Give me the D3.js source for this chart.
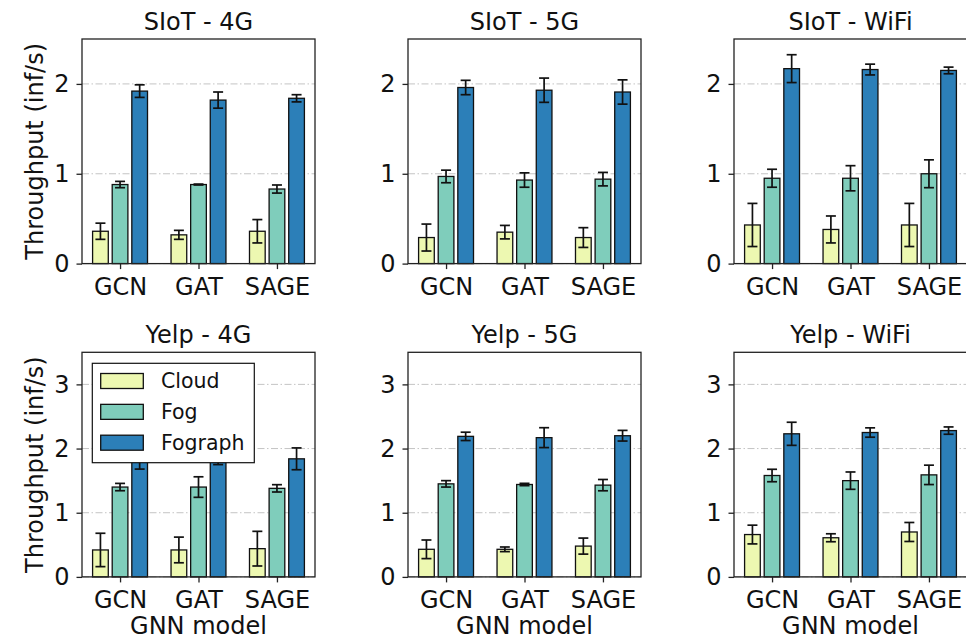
<!DOCTYPE html>
<html lang="en">
<head>
  <meta charset="UTF-8">
  <title>Throughput</title>
  <style>
    body { margin: 0; background: #fff; }
    svg { display: block; font-family: "DejaVu Sans", sans-serif; }
  </style>
</head>
<body>
  <svg id="svg" width="966" height="640"></svg>
  <script src="https://cdn.jsdelivr.net/npm/d3@7"></script>
  <script>
    const models = ['GCN', 'GAT', 'SAGE']
    const platforms = ['Cloud', 'Fog', 'Fograph']
    const colors = ['#edf8b1', '#7fcdbb', '#2c7fb8']
    const networks = ['4G', '5G', 'WiFi']
    const datasets = ['SIoT', 'Yelp']
    const siotTicks = [0, 1, 2]
    const yelpTicks = [0, 1, 2, 3]

    // rows = Cloud, Fog, Fograph ; columns = GCN, GAT, SAGE
    const siot4gMean = [[0.36, 0.32, 0.36], [0.88, 0.88, 0.83], [1.92, 1.82, 1.84]]
    const siot4gErr = [[0.09, 0.05, 0.13], [0.035, 0.005, 0.045], [0.07, 0.09, 0.04]]
    const siot5gMean = [[0.29, 0.35, 0.29], [0.97, 0.93, 0.94], [1.96, 1.93, 1.91]]
    const siot5gErr = [[0.15, 0.075, 0.11], [0.07, 0.08, 0.075], [0.08, 0.135, 0.135]]
    const siotWifiMean = [[0.43, 0.38, 0.43], [0.95, 0.95, 1.0], [2.17, 2.16, 2.15]]
    const siotWifiErr = [[0.24, 0.15, 0.24], [0.1, 0.14, 0.155], [0.155, 0.06, 0.037]]
    const yelp4gMean = [[0.42, 0.42, 0.44], [1.4, 1.4, 1.38], [1.82, 1.9, 1.84]]
    const yelp4gErr = [[0.26, 0.2, 0.27], [0.057, 0.16, 0.057], [0.14, 0.15, 0.17]]
    const yelp5gMean = [[0.43, 0.43, 0.48], [1.45, 1.44, 1.43], [2.19, 2.17, 2.2]]
    const yelp5gErr = [[0.145, 0.036, 0.125], [0.05, 0.018, 0.088], [0.065, 0.155, 0.083]]
    const yelpWifiMean = [[0.66, 0.61, 0.7], [1.58, 1.5, 1.59], [2.23, 2.25, 2.28]]
    const yelpWifiErr = [[0.146, 0.062, 0.148], [0.097, 0.135, 0.151], [0.18, 0.073, 0.057]]

    const panels = [
      { ds: 0, net: 0, mean: siot4gMean, err: siot4gErr },
      { ds: 0, net: 1, mean: siot5gMean, err: siot5gErr },
      { ds: 0, net: 2, mean: siotWifiMean, err: siotWifiErr },
      { ds: 1, net: 0, mean: yelp4gMean, err: yelp4gErr },
      { ds: 1, net: 1, mean: yelp5gMean, err: yelp5gErr },
      { ds: 1, net: 2, mean: yelpWifiMean, err: yelpWifiErr }
    ]

    const colLeft = [82, 408, 734]
    const rowTop = [39, 352.3]
    const pw = 233
    const ph = 224.6
    const yMax = [2.5, 3.5]
    const yTicks = [siotTicks, yelpTicks]
    const barW = 0.2
    const slot = 0.25
    const ink = '#222'

    const svg = d3.select('#svg')
    const x = d3.scaleLinear().domain([-0.485, 2.485]).range([0, pw])

    panels.forEach(p => {
      const g = svg.append('g')
        .attr('transform', `translate(${colLeft[p.net]}, ${rowTop[p.ds]})`)
      const y = d3.scaleLinear().domain([0, yMax[p.ds]]).range([ph, 0])

      // grid
      g.selectAll('.grid')
        .data(yTicks[p.ds])
        .enter()
        .append('line')
        .attr('x1', 0).attr('x2', pw)
        .attr('y1', d => y(d)).attr('y2', d => y(d))
        .attr('stroke', '#c4c4c4')
        .attr('stroke-width', 1)
        .attr('stroke-dasharray', '7,2.5,1.5,2.5')

      // bars
      const cells = []
      platforms.forEach((pl, j) => {
        models.forEach((m, i) => {
          cells.push({ i, j, v: p.mean[j][i], e: p.err[j][i] })
        })
      })
      const cx = d => x(d.i + (d.j - 1) * slot)

      g.selectAll('rect.bar')
        .data(cells)
        .enter()
        .append('rect')
        .attr('class', 'bar')
        .attr('x', d => x(d.i + (d.j - 1) * slot - barW / 2))
        .attr('y', d => y(d.v))
        .attr('width', x(barW) - x(0))
        .attr('height', d => ph - y(d.v))
        .attr('fill', d => colors[d.j])
        .attr('stroke', '#111')
        .attr('stroke-width', 1.3)

      // error bars
      const eb = g.selectAll('g.err')
        .data(cells)
        .enter()
        .append('g')
        .attr('stroke', '#111')
        .attr('stroke-width', 1.7)
      eb.append('line')
        .attr('x1', cx).attr('x2', cx)
        .attr('y1', d => y(d.v - d.e)).attr('y2', d => y(d.v + d.e))
      eb.append('line')
        .attr('x1', d => cx(d) - 5).attr('x2', d => cx(d) + 5)
        .attr('y1', d => y(d.v - d.e)).attr('y2', d => y(d.v - d.e))
      eb.append('line')
        .attr('x1', d => cx(d) - 5).attr('x2', d => cx(d) + 5)
        .attr('y1', d => y(d.v + d.e)).attr('y2', d => y(d.v + d.e))

      // axes
      const leftAxis = d3.axisLeft(y)
        .tickValues(yTicks[p.ds])
        .tickFormat(d3.format('d'))
        .tickSize(5.5)
        .tickPadding(7)
      const ya = g.append('g').call(leftAxis)

      const bottomAxis = d3.axisBottom(x)
        .tickValues([0, 1, 2])
        .tickFormat(d => models[d])
        .tickSize(5.5)
        .tickPadding(8.5)
      const xa = g.append('g')
        .attr('transform', `translate(0, ${ph})`)
        .call(bottomAxis)

      ;[ya, xa].forEach(a => {
        a.select('.domain').remove()
        a.selectAll('line').attr('stroke', ink).attr('stroke-width', 1.3)
        a.selectAll('text')
          .attr('fill', '#111')
          .style('font-size', '24px')
          .style('font-family', '"DejaVu Sans", sans-serif')
      })

      // frame
      g.append('rect')
        .attr('width', pw).attr('height', ph)
        .attr('fill', 'none')
        .attr('stroke', ink)
        .attr('stroke-width', 1.3)

      // title
      g.append('text')
        .attr('x', pw / 2)
        .attr('y', -9.5)
        .attr('text-anchor', 'middle')
        .style('font-size', '24px')
        .attr('fill', '#111')
        .text(`${datasets[p.ds]} - ${networks[p.net]}`)

      if (p.net === 0) {
        g.append('text')
          .attr('transform', `translate(${42.5 - colLeft[0]}, ${ph / 2}) rotate(-90)`)
          .attr('text-anchor', 'middle')
          .style('font-size', '24px')
          .attr('fill', '#111')
          .text('Throughput (inf/s)')
      }
      if (p.ds === 1) {
        g.append('text')
          .attr('x', pw / 2)
          .attr('y', 634 - rowTop[1])
          .attr('text-anchor', 'middle')
          .style('font-size', '24px')
          .attr('fill', '#111')
          .text('GNN model')
      }

      // legend only in Yelp - 4G
      if (p.ds === 1 && p.net === 0) {
        const lg = g.append('g').attr('transform', 'translate(10.3, 11)')
        lg.append('rect')
          .attr('width', 162).attr('height', 99.4)
          .attr('fill', '#fff')
          .attr('stroke', '#111')
          .attr('stroke-width', 1.2)
        const items = lg.selectAll('g.item')
          .data(platforms)
          .enter()
          .append('g')
          .attr('transform', (d, k) => `translate(0, ${17.7 + k * 30.85})`)
        items.append('rect')
          .attr('x', 8.4).attr('y', -7.5)
          .attr('width', 42.6).attr('height', 15)
          .attr('fill', (d, k) => colors[k])
          .attr('stroke', '#111')
          .attr('stroke-width', 1.3)
        items.append('text')
          .attr('x', 68.7).attr('y', 7)
          .style('font-size', '20.5px')
          .attr('fill', '#111')
          .text(d => d)
      }
    })
  </script>
</body>
</html>
